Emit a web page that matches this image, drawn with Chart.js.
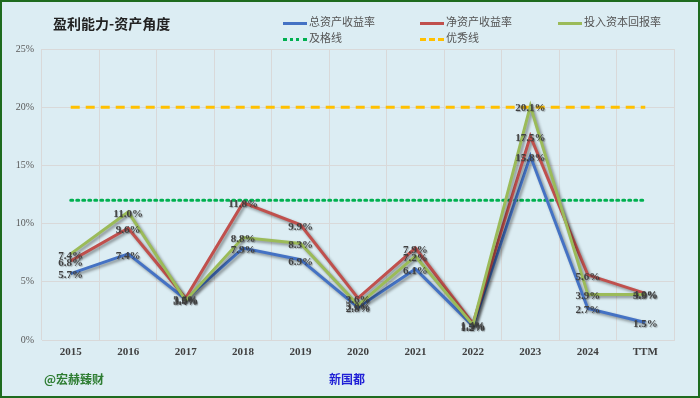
<!DOCTYPE html>
<html>
<head>
<meta charset="utf-8">
<script src="https://cdn.jsdelivr.net/npm/chart.js@4.4.1/dist/chart.umd.min.js"></script>
<style>
  html, body { margin: 0; padding: 0; }
  body { width: 700px; height: 398px; overflow: hidden; }
  #frame {
    position: relative; width: 696px; height: 394px;
    background: #dcedf3; border: 2px solid #1e6b1e;
  }
  #chartBox { position: absolute; left: 0; top: 0; width: 696px; height: 394px; }
  .title {
    position: absolute; left: 51px; top: 11px;
    font: bold 14px "Noto Sans CJK SC", sans-serif; color: #222;
  }
  .legend { position: absolute; font: 11px "Noto Sans CJK SC", sans-serif; color: #555; }
  .legend span.k { display: inline-block; width: 24px; vertical-align: middle; margin-right: 2px; }
  .foot { position: absolute; top: 368px; font: bold 12px "Noto Sans CJK SC", sans-serif; }
</style>
</head>
<body>
<div id="frame">
  <div id="chartBox"><canvas id="chart"></canvas></div>
  <div class="title">盈利能力-资产角度</div>
  <div class="legend" style="left:281px;top:11px"><span class="k" style="border-top:3px solid #4472c4"></span>总资产收益率</div>
  <div class="legend" style="left:418px;top:11px"><span class="k" style="border-top:3px solid #c0504d"></span>净资产收益率</div>
  <div class="legend" style="left:556px;top:11px"><span class="k" style="border-top:3px solid #9bbb59"></span>投入资本回报率</div>
  <div class="legend" style="left:281px;top:27px"><span class="k" style="border-top:3px dotted #00b050"></span>及格线</div>
  <div class="legend" style="left:418px;top:27px"><span class="k" style="border-top:3px dashed #ffc000"></span>优秀线</div>
  <div class="foot" style="left:42px;color:#2e7d32">@宏赫臻财</div>
  <div class="foot" style="left:327px;color:#1f1fd6">新国都</div>
</div>
<script>
// 数据
const years = ['2015', '2016', '2017', '2018', '2019', '2020', '2021', '2022', '2023', '2024', 'TTM'];
const roa = [5.7, 7.4, 3.5, 7.9, 6.9, 2.8, 6.1, 1.2, 15.8, 2.7, 1.5];
const roe = [6.8, 9.6, 3.6, 11.8, 9.9, 3.6, 7.9, 1.4, 17.5, 5.6, 4.0];
const roic = [7.4, 11.0, 3.4, 8.8, 8.3, 3.0, 7.2, 1.3, 20.1, 3.9, 3.9];
const passLine = [12, 12, 12, 12, 12, 12, 12, 12, 12, 12, 12];
const goodLine = [20, 20, 20, 20, 20, 20, 20, 20, 20, 20, 20];
const yTicks = [0, 5, 10, 15, 20, 25];

// 阴影
const shadowPlugin = {
  id: 'shadow',
  beforeDatasetDraw(chart, args) {
    const ctx = chart.ctx;
    ctx.save();
    if (args.index < 3) {
      ctx.shadowColor = 'rgba(0,0,0,0.4)';
      ctx.shadowBlur = 3;
      ctx.shadowOffsetX = 2;
      ctx.shadowOffsetY = 2;
    }
  },
  afterDatasetDraw(chart) {
    chart.ctx.restore();
  }
};

// 数据标签
const labelPlugin = {
  id: 'valueLabels',
  afterDatasetsDraw(chart) {
    const ctx = chart.ctx;
    ctx.save();
    ctx.font = 'bold 11px "Liberation Serif", serif';
    ctx.textAlign = 'center';
    ctx.textBaseline = 'middle';
    ctx.shadowColor = 'rgba(0,0,0,0.3)';
    ctx.shadowBlur = 1;
    ctx.shadowOffsetX = 1;
    ctx.shadowOffsetY = 1;
    ctx.fillStyle = '#404040';
    [0, 1, 2].forEach(i => {
      const meta = chart.getDatasetMeta(i);
      meta.data.forEach((pt, j) => {
        const v = chart.data.datasets[i].data[j];
        ctx.fillText(v.toFixed(1) + '%', pt.x, pt.y + 2);
      });
    });
    ctx.restore();
  }
};

new Chart(document.getElementById('chart').getContext('2d'), {
  type: 'line',
  data: {
    labels: years,
    datasets: [
      { label: '总资产收益率', data: roa, borderColor: '#4472c4', borderWidth: 3, pointRadius: 0, tension: 0, order: 3 },
      { label: '净资产收益率', data: roe, borderColor: '#c0504d', borderWidth: 3, pointRadius: 0, tension: 0, order: 2 },
      { label: '投入资本回报率', data: roic, borderColor: '#9bbb59', borderWidth: 3, pointRadius: 0, tension: 0, order: 1 },
      { label: '及格线', data: passLine, borderColor: '#00b050', borderWidth: 3, borderDash: [2, 4], borderCapStyle: 'round', pointRadius: 0, order: 5 },
      { label: '优秀线', data: goodLine, borderColor: '#ffc000', borderWidth: 3, borderDash: [9, 6], pointRadius: 0, order: 4 }
    ]
  },
  options: {
    responsive: true,
    maintainAspectRatio: false,
    animation: false,
    layout: { padding: { left: 0, right: 24, top: 47, bottom: 0 } },
    plugins: { legend: { display: false }, tooltip: { enabled: false } },
    scales: {
      x: {
        offset: true,
        grid: { offset: true, color: '#d9d9d9', lineWidth: 1, drawTicks: false },
        border: { color: '#d9d9d9' },
        ticks: { color: '#404040', font: { family: '"Liberation Serif", serif', size: 11, weight: 'bold' }, padding: 6 },
        afterFit(scale) { scale.height = 56; }
      },
      y: {
        min: 0, max: 25,
        afterBuildTicks(scale) { scale.ticks = yTicks.map(v => ({ value: v })); },
        grid: { color: '#d9d9d9', drawTicks: false },
        border: { display: false },
        ticks: { color: '#595959', font: { family: '"Liberation Serif", serif', size: 10 }, padding: 8, callback: v => v + '%' },
        afterFit(scale) { scale.width = 40; }
      }
    }
  },
  plugins: [shadowPlugin, labelPlugin]
});
</script>
</body>
</html>
